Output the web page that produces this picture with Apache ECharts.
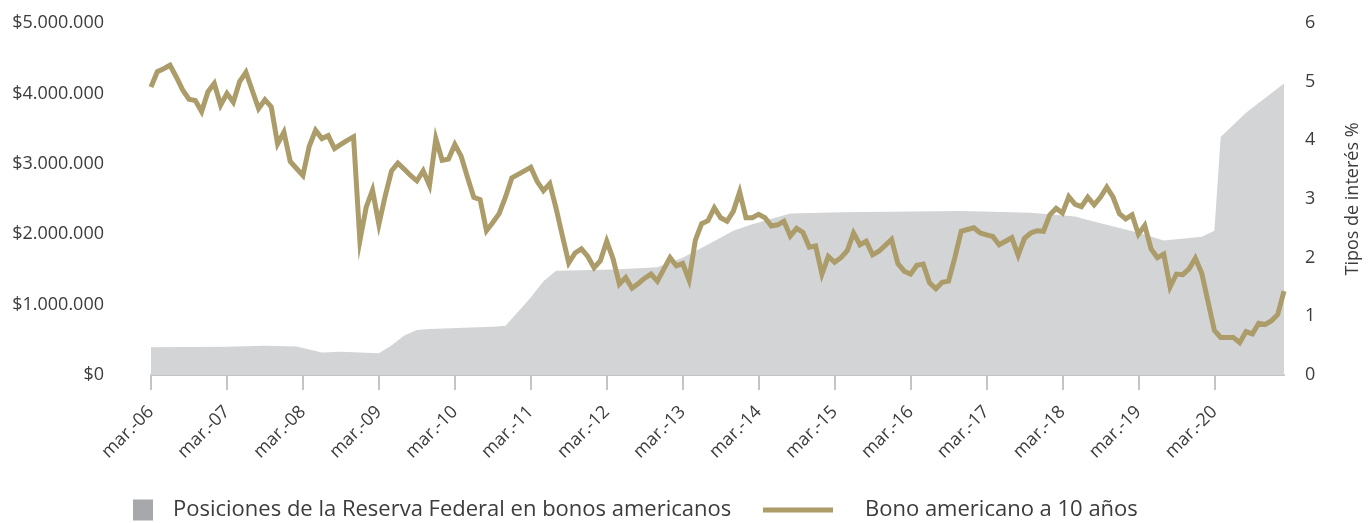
<!DOCTYPE html>
<html>
<head>
<meta charset="utf-8">
<script src="https://cdn.jsdelivr.net/npm/echarts@6/dist/echarts.min.js"></script>
<style>
  html, body { margin: 0; padding: 0; background: #ffffff; }
  #chart { width: 1370px; height: 523px; }
</style>
</head>
<body>
<div id="chart"></div>
<script>
// Month names and the years covered (monthly categories, mar.-06 to feb.-21)
const monthNames = ['ene.', 'feb.', 'mar.', 'abr.', 'may.', 'jun.', 'jul.', 'ago.', 'sept.', 'oct.', 'nov.', 'dic.'];
const firstYear = 2006;
const firstMonth = 2;      // marzo
const monthCount = 180;

// Series names
const fedName = 'Posiciones de la Reserva Federal en bonos americanos';
const bondName = 'Bono americano a 10 años';

// Rentabilidad del bono americano a 10 años (%), mensual
const bondYield = [
  4.91, 5.17, 5.22, 5.28, 5.08, 4.86, 4.70, 4.68, 4.49, 4.83, 4.97, 4.60,
  4.80, 4.65, 5.00, 5.16, 4.85, 4.54, 4.69, 4.57, 3.94, 4.14, 3.64, 3.52,
  3.40, 3.90, 4.17, 4.03, 4.08, 3.86, 3.93, 4.00, 4.06, 2.29, 2.86, 3.15,
  2.57, 3.05, 3.48, 3.61, 3.51, 3.40, 3.31, 3.48, 3.23, 4.03, 3.66, 3.68,
  3.93, 3.73, 3.37, 3.03, 2.99, 2.46, 2.60, 2.75, 3.03, 3.36, 3.42, 3.48,
  3.54, 3.30, 3.14, 3.26, 2.84, 2.37, 1.91, 2.08, 2.15, 2.02, 1.83, 1.95,
  2.28, 1.98, 1.55, 1.66, 1.48, 1.56, 1.65, 1.72, 1.60, 1.80, 2.00, 1.86,
  1.90, 1.62, 2.30, 2.58, 2.63, 2.85, 2.68, 2.62, 2.79, 3.12, 2.68, 2.68,
  2.74, 2.68, 2.54, 2.56, 2.62, 2.37, 2.50, 2.43, 2.18, 2.20, 1.72, 2.02,
  1.92, 2.00, 2.12, 2.42, 2.22, 2.28, 2.05, 2.11, 2.21, 2.31, 1.90, 1.77,
  1.72, 1.87, 1.89, 1.57, 1.47, 1.58, 1.60, 2.00, 2.45, 2.48, 2.51, 2.42,
  2.39, 2.36, 2.22, 2.28, 2.34, 2.04, 2.33, 2.42, 2.46, 2.45, 2.73, 2.84,
  2.76, 3.04, 2.91, 2.87, 3.03, 2.90, 3.03, 3.20, 3.03, 2.75, 2.66, 2.73,
  2.40, 2.55, 2.15, 2.00, 2.06, 1.50, 1.72, 1.71, 1.81, 1.99, 1.74, 1.25,
  0.76, 0.64, 0.64, 0.64, 0.55, 0.74, 0.70, 0.88, 0.86, 0.92, 1.03, 1.43
];

// Posiciones de la Reserva Federal en bonos americanos ($), por fecha
const fedDates = [
  'mar.-06', 'mar.-07', 'sept.-07', 'feb.-08', 'jun.-08', 'sept.-08', 'mar.-09',
  'may.-09', 'jul.-09', 'sept.-09', 'nov.-09', 'sept.-10', 'nov.-10', 'ene.-11',
  'mar.-11', 'may.-11', 'jul.-11', 'abr.-12', 'nov.-12', 'mar.-13', 'jul.-13',
  'nov.-13', 'feb.-14', 'ago.-14', 'abr.-15', 'nov.-16', 'oct.-17', 'may.-18',
  'jul.-18', 'mar.-19', 'jul.-19', 'ene.-20', 'mar.-20', 'abr.-20', 'ago.-20', 'feb.-21'
];
const fedHoldings = [
  393000, 400000, 415000, 405000, 318000, 330000, 310000,
  420000, 560000, 640000, 655000, 685000, 700000, 900000,
  1100000, 1330000, 1480000, 1500000, 1530000, 1665000, 1855000,
  2050000, 2140000, 2295000, 2311000, 2330000, 2305000, 2250000,
  2200000, 2020000, 1910000, 1965000, 2050000, 3380000, 3725000, 4140000
];

// Axis tick values
const leftTicks = { min: 0, max: 5000000, step: 1000000 };
const rightTicks = { min: 0, max: 6, step: 1 };

// Build the monthly category list
const categories = [];
for (let i = 0; i < monthCount; i++) {
  const m = (firstMonth + i) % 12;
  const y = firstYear + Math.floor((firstMonth + i) / 12);
  categories.push(monthNames[m] + '-' + String(y % 100).padStart(2, '0'));
}
const fedData = fedDates.map((d, k) => [d, fedHoldings[k]]);

const textColor = '#3c3c3c';
const axisGray = '#c3c4c8';
const goldColor = '#ab9c69';
const fillGray = '#d3d4d6';
const legendGray = '#a7a8ab';
const fontFamily = '"Open Sans", "Noto Sans", sans-serif';

function dotted(v) {
  return String(v).replace(/\B(?=(\d{3})+(?!\d))/g, '.');
}
const yearTick = (index) => index % 12 === 0;

const chart = echarts.init(document.getElementById('chart'), null, { renderer: 'canvas' });
chart.setOption({
  animation: false,
  backgroundColor: '#ffffff',
  textStyle: { fontFamily: fontFamily },
  grid: { left: 151, right: 86, top: 23, bottom: 148, containLabel: false },
  legend: [
    {
      left: 133, top: 499, padding: 0,
      itemWidth: 20, itemHeight: 21,
      data: [{ name: fedName, icon: 'rect', itemStyle: { color: legendGray } }],
      textStyle: { fontSize: 22, color: textColor, fontFamily: fontFamily, padding: [0, 0, 0, 15] },
      selectedMode: false
    },
    {
      left: 763, top: 499, padding: 0,
      itemWidth: 70, itemHeight: 5,
      data: [{ name: bondName, icon: 'rect', itemStyle: { color: goldColor } }],
      textStyle: { fontSize: 22, color: textColor, fontFamily: fontFamily, padding: [0, 0, 0, 27] },
      selectedMode: false
    }
  ],
  xAxis: {
    type: 'category',
    data: categories,
    boundaryGap: false,
    axisLine: { lineStyle: { color: axisGray, width: 2 } },
    axisTick: { interval: yearTick, length: 15, lineStyle: { color: axisGray, width: 2 } },
    axisLabel: {
      interval: yearTick, rotate: 45, margin: 34,
      fontSize: 18, color: textColor, fontFamily: fontFamily
    },
    splitLine: { show: false }
  },
  yAxis: [
    {
      type: 'value',
      min: leftTicks.min, max: leftTicks.max, interval: leftTicks.step,
      axisLine: { show: false }, axisTick: { show: false }, splitLine: { show: false },
      axisLabel: {
        margin: 47, fontSize: 18, color: textColor, fontFamily: fontFamily,
        formatter: (v) => '$' + dotted(v)
      }
    },
    {
      type: 'value', position: 'right',
      min: rightTicks.min, max: rightTicks.max, interval: rightTicks.step,
      name: 'Tipos de interés %', nameLocation: 'middle', nameRotate: 90, nameGap: 60,
      nameTextStyle: { fontSize: 18, color: textColor, fontFamily: fontFamily },
      axisLine: { show: false }, axisTick: { show: false }, splitLine: { show: false },
      axisLabel: { margin: 21, fontSize: 18, color: textColor, fontFamily: fontFamily }
    }
  ],
  series: [
    {
      name: fedName, type: 'line', yAxisIndex: 0,
      data: fedData,
      showSymbol: false, symbol: 'none',
      lineStyle: { width: 0 },
      areaStyle: { color: fillGray, opacity: 1 },
      itemStyle: { color: legendGray },
      z: 1
    },
    {
      name: bondName, type: 'line', yAxisIndex: 1,
      data: bondYield,
      showSymbol: false, symbol: 'none',
      lineStyle: { color: goldColor, width: 5, join: 'miter' },
      itemStyle: { color: goldColor },
      z: 3
    }
  ]
});
</script>
</body>
</html>
